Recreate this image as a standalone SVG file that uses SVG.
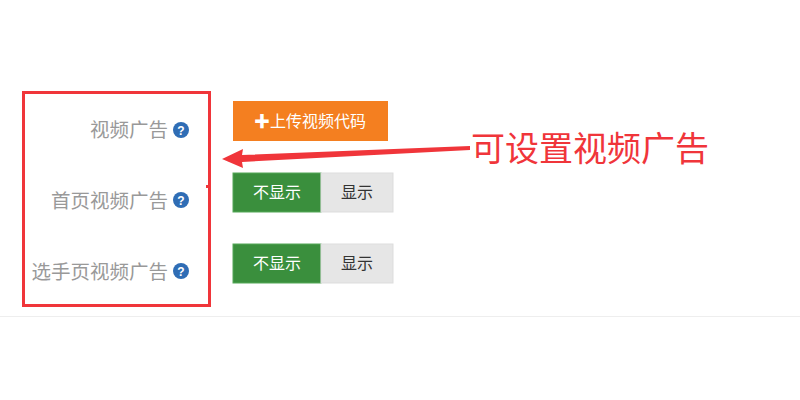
<svg xmlns="http://www.w3.org/2000/svg" width="800" height="400" viewBox="0 0 800 400">
<style>
.lbl{font-family:"Noto Sans CJK SC","Noto Sans",sans-serif;font-size:19.5px;fill:#999;text-anchor:end}
.btn{font-family:"Noto Sans CJK SC","Noto Sans",sans-serif;font-size:16px;text-anchor:middle}
.q{font-family:"Liberation Sans",sans-serif;font-size:12px;font-weight:bold;fill:#fff;text-anchor:middle}
</style>
<rect width="800" height="400" fill="#fff"/>
<line x1="0" y1="316.5" x2="800" y2="316.5" stroke="#eee"/>
<g id="labels">
<text class="lbl" x="168" y="137">视频广告</text>
<circle cx="181" cy="130" r="8" fill="#2f6db5"/><text class="q" x="181" y="134.5">?</text>
<text class="lbl" x="168" y="208">首页视频广告</text>
<circle cx="181" cy="200" r="8" fill="#2f6db5"/><text class="q" x="181" y="204.5">?</text>
<text class="lbl" x="168" y="279">选手页视频广告</text>
<circle cx="181" cy="271" r="8" fill="#2f6db5"/><text class="q" x="181" y="275.5">?</text>
</g>
<g id="upload">
<rect x="233" y="101" width="155" height="40" fill="#f47f20"/>
<text class="btn" x="310" y="127" fill="#fff">✚上传视频代码</text>
</g>
<g id="toggle1">
<rect x="233" y="173" width="88" height="39" fill="#3a8f3d" stroke="#55a858"/>
<rect x="321" y="173" width="72" height="39" fill="#e6e6e6" stroke="#ddd"/>
<text class="btn" x="277" y="198" fill="#fff">不显示</text>
<text class="btn" x="357" y="198" fill="#333">显示</text>
</g>
<g id="toggle2">
<rect x="233" y="244" width="88" height="39" fill="#3a8f3d" stroke="#55a858"/>
<rect x="321" y="244" width="72" height="39" fill="#e6e6e6" stroke="#ddd"/>
<text class="btn" x="277" y="269" fill="#fff">不显示</text>
<text class="btn" x="357" y="269" fill="#333">显示</text>
</g>
<g id="box">
<rect x="23.5" y="92.5" width="186" height="213" fill="none" stroke="#f0353a" stroke-width="3"/>
<rect x="206" y="185" width="3" height="3" fill="#f0353a"/>
</g>
<g id="connectors">
<polygon points="470,146 242,155 243,149 222,159 243,168 242,162 470,150" fill="#f0353a"/>
</g>
<text x="471" y="161" font-family="Noto Sans CJK SC,sans-serif" font-size="34" fill="#f0353a">可设置视频广告</text>
</svg>
